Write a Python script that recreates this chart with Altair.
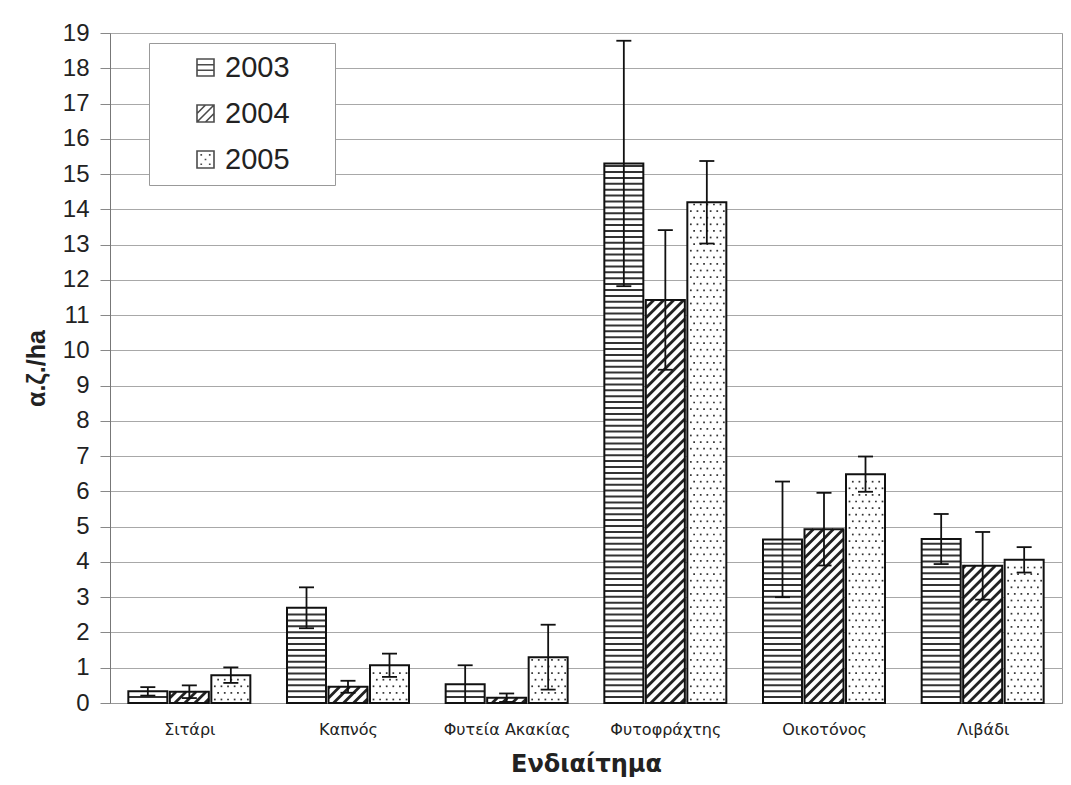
import json
import altair as alt
import pandas as pd

# ---------------- data ----------------
categories = ["Σιτάρι", "Καπνός", "Φυτεία Ακακίας", "Φυτοφράχτης", "Οικοτόνος", "Λιβάδι"]
years = ["2003", "2004", "2005"]
mean_2003 = [0.33, 2.70, 0.53, 15.30, 4.64, 4.65]
err_2003 = [0.12, 0.58, 0.54, 3.48, 1.64, 0.71]
mean_2004 = [0.32, 0.46, 0.15, 11.43, 4.93, 3.89]
err_2004 = [0.18, 0.17, 0.12, 1.98, 1.03, 0.96]
mean_2005 = [0.79, 1.07, 1.30, 14.20, 6.49, 4.06]
err_2005 = [0.22, 0.33, 0.92, 1.17, 0.50, 0.36]
y_ticks = list(range(0, 20))

means = {"2003": mean_2003, "2004": mean_2004, "2005": mean_2005}
errs = {"2003": err_2003, "2004": err_2004, "2005": err_2005}

# ---------------- geometry ----------------
W, H = 952, 670
Y_MAX = 19
PX_X = W / len(categories)
PX_Y = H / Y_MAX
SLOT = 41.5 / PX_X
HALF = 19.5 / PX_X
CAP = 7.5 / PX_X

rows = []
for i, cat in enumerate(categories):
    for j, yr in enumerate(years):
        v = means[yr][i]
        e = errs[yr][i]
        c = i + 0.5 + (j - 1) * SLOT
        rows.append(dict(cat=cat, year=yr, value=v, base=0.0, center=c,
                         left=c - HALF, right=c + HALF,
                         lo=max(0.0, v - e), hi=v + e,
                         capl=c - CAP, capr=c + CAP, mid=v / 2))
df = pd.DataFrame(rows)

# hatch patterns derived from the bars
hlines, dlines, dots = [], [], []
for r in rows:
    wpx = (r["right"] - r["left"]) * PX_X
    hpx = r["value"] * PX_Y
    if r["year"] == "2003":
        yp = 5.9
        while yp < hpx - 1.5:
            hlines.append(dict(x=r["left"], x2=r["right"], y=yp / PX_Y, y2=yp / PX_Y))
            yp += 5.9
    elif r["year"] == "2004":
        P = 10.0
        cc = -wpx + 4.0
        while cc < hpx:
            xs = max(0.0, -cc)
            xe = min(wpx, hpx - cc)
            if xe > xs + 0.5:
                dlines.append(dict(x=r["left"] + xs / PX_X, x2=r["left"] + xe / PX_X,
                                   y=(xs + cc) / PX_Y, y2=(xe + cc) / PX_Y))
            cc += P
    else:
        k = 0
        yp = 3.5
        while yp < hpx - 2:
            xo = 3.5 + (k % 2) * 3.3
            while xo < wpx - 2:
                dots.append(dict(x=r["left"] + xo / PX_X, y=yp / PX_Y))
                xo += 6.6
            yp += 6.6
            k += 1

hdf = pd.DataFrame(hlines)
ddf = pd.DataFrame(dlines)
pdf = pd.DataFrame(dots)

# ---------------- scales / axes ----------------
xs = alt.Scale(domain=[0, len(categories)], nice=False, zero=False)
ys = alt.Scale(domain=[0, Y_MAX], nice=False)

label_expr = json.dumps(categories, ensure_ascii=False) + "[floor(datum.value)]"
x_axis = alt.Axis(values=[i + 0.5 for i in range(len(categories))], labelExpr=label_expr,
                  ticks=False, grid=False, labelOverlap=False,
                  labelFont="DejaVu Sans", labelFontSize=16, labelColor="#222",
                  labelPadding=18, domainColor="#999",
                  title="Ενδιαίτημα", titleFont="DejaVu Sans", titleFontSize=24,
                  titleFontWeight="bold", titleColor="#222", titlePadding=15)
y_axis = alt.Axis(values=y_ticks, title="α.ζ./ha", titleFont="Liberation Sans",
                  titleFontSize=25, titleFontWeight="bold", titleColor="#222",
                  titlePadding=13, labelFont="Liberation Sans", labelFontSize=24,
                  labelColor="#222", labelPadding=11, tickSize=10, tickColor="#888",
                  domainColor="#777", grid=True, gridColor="#a8a8a8", gridWidth=1)


def X(f):
    return alt.X(f, type="quantitative", scale=xs, axis=x_axis)


def Y(f):
    return alt.Y(f, type="quantitative", scale=ys, axis=y_axis)


shape_paths = [
    "M-1,-1H1V1H-1Z M-1,-0.33H1 M-1,0.33H1",
    "M-1,-1H1V1H-1Z M-1,1L1,-1 M-1,0L0,-1 M0,1L1,0",
    "M-1,-1H1V1H-1Z M-0.6,-0.55h0.2 M0.4,-0.55h0.2 M-0.1,0h0.2 M-0.6,0.55h0.2 M0.4,0.55h0.2",
]

# an invisible title on the right widens the legend box like the reference
legend = alt.Legend(orient="none", legendX=39, legendY=10, title="MMM",
                    titleOrient="right", titleColor="transparent", titleFontSize=14,
                    titleFont="Liberation Sans", titlePadding=0,
                    labelFont="Liberation Sans", labelFontSize=29, labelColor="#222",
                    symbolSize=289, symbolStrokeWidth=1.6, symbolStrokeColor="black",
                    symbolFillColor="white", symbolOffset=32, labelOffset=5,
                    padding=10, rowPadding=16, fillColor="white", strokeColor="#999",
                    cornerRadius=0)

legend_layer = alt.Chart(df[df["value"] > 2]).mark_point(
    filled=False, color="black", size=289, strokeWidth=1.6
).encode(
    x=X("center"), y=Y("mid"),
    shape=alt.Shape("year:N", scale=alt.Scale(domain=years, range=shape_paths), legend=legend),
)

bars_fill = alt.Chart(df).mark_rect(fill="white").encode(
    x=X("left"), x2="right", y=Y("base"), y2="value"
)

h_layer = alt.Chart(hdf).mark_rule(color="#333", strokeWidth=2).encode(
    x=X("x"), x2="x2", y=Y("y"), y2="y2"
)
d_layer = alt.Chart(ddf).mark_rule(color="#222", strokeWidth=2.8).encode(
    x=X("x"), x2="x2", y=Y("y"), y2="y2"
)
p_layer = alt.Chart(pdf).mark_square(color="#333", size=3, opacity=1).encode(
    x=X("x"), y=Y("y")
)

bars_outline = alt.Chart(df).mark_rect(fill="transparent", stroke="#111", strokeWidth=2).encode(
    x=X("left"), x2="right", y=Y("base"), y2="value"
)

err_v = alt.Chart(df).mark_rule(color="#111", strokeWidth=1.8).encode(
    x=X("center"), y=Y("lo"), y2="hi"
)
cap_hi = alt.Chart(df).mark_rule(color="#111", strokeWidth=1.8).encode(
    x=X("capl"), x2="capr", y=Y("hi")
)
cap_lo = alt.Chart(df[df["lo"] > 0]).mark_rule(color="#111", strokeWidth=1.8).encode(
    x=X("capl"), x2="capr", y=Y("lo")
)

chart = alt.layer(
    legend_layer, bars_fill, h_layer, d_layer, p_layer, bars_outline, err_v, cap_hi, cap_lo
).properties(
    width=W, height=H,
    padding={"left": 110, "top": 33, "right": 9, "bottom": 82},
    autosize=alt.AutoSizeParams(type="none"),
    background="white",
).configure_view(stroke="#999", strokeWidth=1)

chart.save("out.html", embed_options={"renderer": "svg", "actions": False})
